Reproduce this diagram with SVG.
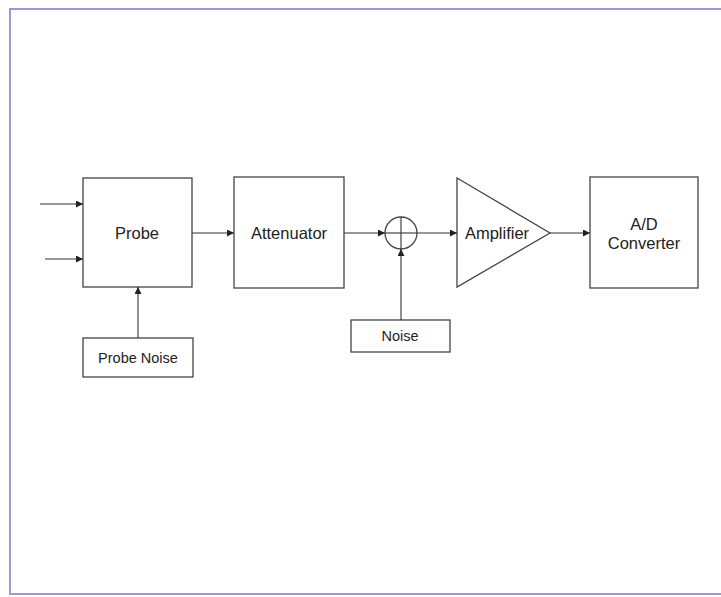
<svg xmlns="http://www.w3.org/2000/svg" width="721" height="597" viewBox="0 0 721 597">
<style>
.box{fill:#fff;stroke:#444;stroke-width:1.3}
.ln{stroke:#333;stroke-width:1.1;fill:none}
.t{font-family:"Liberation Sans",Arial,sans-serif;font-size:16.5px;fill:#222;text-anchor:middle}
.s{font-family:"Liberation Sans",Arial,sans-serif;font-size:14.5px;fill:#222;text-anchor:middle}
</style>
<defs>
<marker id="ah" markerWidth="8" markerHeight="8" refX="7" refY="3.5" orient="auto" markerUnits="userSpaceOnUse">
<path d="M0,0 L7,3.5 L0,7 z" fill="#222"/>
</marker>
</defs>
<rect x="0" y="0" width="721" height="597" fill="#fff"/>
<rect x="10" y="9" width="714" height="585" fill="none" stroke="#9a9ad0" stroke-width="2"/>
<g id="probe"><rect class="box" x="83" y="178" width="109" height="109"/><text class="t" x="137" y="239">Probe</text></g>
<g id="attenuator"><rect class="box" x="234" y="177" width="110" height="111"/><text class="t" x="289" y="239">Attenuator</text></g>
<g id="sum"><circle class="box" cx="401" cy="233" r="16"/><line class="ln" x1="385" y1="233" x2="417" y2="233"/><line class="ln" x1="401" y1="217" x2="401" y2="249"/></g>
<g id="amplifier"><polygon class="box" points="457,178 550,233 457,287"/><text class="t" x="497" y="239">Amplifier</text></g>
<g id="adc"><rect class="box" x="590" y="177" width="108" height="111"/><text class="t" x="644" y="230">A/D</text><text class="t" x="644" y="249">Converter</text></g>
<g id="probe-noise"><rect class="box" x="83" y="338" width="110" height="39"/><text class="s" x="138" y="363">Probe Noise</text></g>
<g id="noise"><rect class="box" x="351" y="320" width="99" height="32"/><text class="s" x="400" y="341">Noise</text></g>
<g id="connectors">
<line class="ln" x1="40" y1="204" x2="83" y2="204" marker-end="url(#ah)"/>
<line class="ln" x1="45" y1="259" x2="83" y2="259" marker-end="url(#ah)"/>
<line class="ln" x1="192" y1="233" x2="234" y2="233" marker-end="url(#ah)"/>
<line class="ln" x1="138" y1="338" x2="138" y2="287" marker-end="url(#ah)"/>
<line class="ln" x1="344" y1="233" x2="385" y2="233" marker-end="url(#ah)"/>
<line class="ln" x1="401" y1="320" x2="401" y2="249" marker-end="url(#ah)"/>
<line class="ln" x1="417" y1="233" x2="457" y2="233" marker-end="url(#ah)"/>
<line class="ln" x1="550" y1="233" x2="590" y2="233" marker-end="url(#ah)"/>
</g>
</svg>
